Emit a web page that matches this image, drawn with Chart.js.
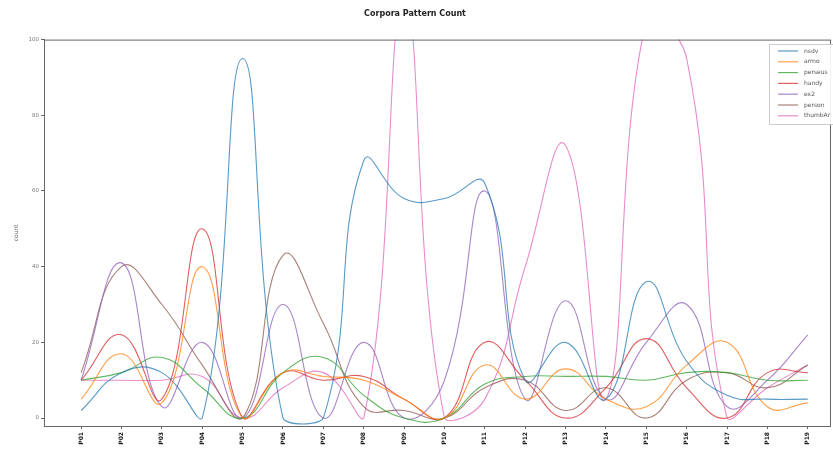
<!DOCTYPE html>
<html>
<head>
<meta charset="utf-8">
<script src="https://cdn.jsdelivr.net/npm/chart.js@4.4.0/dist/chart.umd.min.js"></script>
<style>
  html, body { margin: 0; padding: 0; background: #fff; }
  #wrap { width: 833px; height: 457px; }
</style>
</head>
<body>
<div id="wrap"><canvas id="lineChart" width="833" height="457"></canvas></div>
<script>
let CHART = document.getElementById("lineChart");

// x categories (tick labels) and y ticks
let patterns = ['P01', 'P02', 'P03', 'P04', 'P05', 'P06', 'P07', 'P08', 'P09', 'P10',
                'P11', 'P12', 'P13', 'P14', 'P15', 'P16', 'P17', 'P18', 'P19'];
let yTicks = [0, 20, 40, 60, 80, 100];

// counts per corpus, one value per pattern
let nsdv    = [2, 12, 12, 0, 95, 0, 0, 68, 58, 58, 62, 10, 20, 5, 36, 15, 6, 5, 5];
let armo    = [5, 17, 4, 40, 0, 12, 11, 10, 5, 0, 14, 5, 13, 5, 3, 14, 20, 3, 4];
let perseus = [10, 12, 16, 8, 0, 12, 16, 6, 0, 0, 9, 11, 11, 11, 10, 12, 12, 10, 10];
let handy   = [10, 22, 5, 50, 0, 12, 10, 11, 5, 0, 20, 10, 0, 8, 21, 8, 0, 12, 12];
let ex2     = [10, 41, 3, 20, 0, 30, 0, 20, 0, 10, 60, 5, 31, 5, 20, 30, 3, 10, 22];
let person  = [12, 40, 30, 14, 0, 43, 25, 3, 2, 0, 8, 10, 2, 8, 0, 10, 12, 8, 14];
let thumbAr = [10, 10, 10, 11, 0, 8, 12, 0, 110, 0, 5, 40, 72, 5, 105, 95, 0, 8, 14];

let names  = ['nsdv', 'armo', 'perseus', 'handy', 'ex2', 'person', 'thumbAr'];
let series = [nsdv, armo, perseus, handy, ex2, person, thumbAr];
let colors = ['rgba(31,119,180,0.75)', 'rgba(255,127,14,0.75)', 'rgba(44,160,44,0.75)',
              'rgba(214,39,40,0.75)', 'rgba(148,103,189,0.8)', 'rgba(140,86,75,0.75)',
              'rgba(227,119,194,0.85)'];

let datasets = series.map(function (vals, k) {
    return {
        label: names[k],
        data: vals.map(function (v, i) { return { x: i, y: v }; }),
        borderColor: colors[k],
        backgroundColor: colors[k],
        borderWidth: 1.1,
        pointRadius: 0,
        tension: 0.45,
        fill: false
    };
});

// frame + legend box inside the plot, top right
let boxPlugin = {
    id: 'boxPlugin',
    afterDraw: function (chart) {
        let ctx = chart.ctx;
        let a = chart.chartArea;
        ctx.save();
        ctx.strokeStyle = '#666';
        ctx.lineWidth = 1;
        ctx.strokeRect(a.left + 0.5, a.top + 0.5, a.right - a.left, a.bottom - a.top);

        let bx = 769, by = 44;
        ctx.fillStyle = 'rgba(255,255,255,0.9)';
        ctx.fillRect(bx, by, 70, 80);
        ctx.strokeStyle = '#ccc';
        ctx.strokeRect(bx + 0.5, by + 0.5, 70, 80);
        ctx.font = '6px "DejaVu Sans"';
        ctx.textBaseline = 'middle';
        chart.data.datasets.forEach(function (ds, i) {
            let y = by + 7 + i * 10.8;
            ctx.strokeStyle = ds.borderColor;
            ctx.lineWidth = 1.2;
            ctx.beginPath();
            ctx.moveTo(bx + 9, y);
            ctx.lineTo(bx + 29, y);
            ctx.stroke();
            ctx.fillStyle = '#555';
            ctx.fillText(ds.label, bx + 35, y);
        });
        ctx.restore();
    }
};

let data = {
    type: 'line',
    data: { datasets: datasets },
    options: {
        responsive: false,
        animation: false,
        layout: { padding: { top: 0, right: 3, bottom: 0, left: 0 } },
        plugins: {
            legend: { display: false },
            tooltip: { enabled: false },
            title: {
                display: true,
                text: 'Corpora Pattern Count',
                color: '#222',
                font: { family: 'DejaVu Sans', size: 8, weight: 'bold' },
                padding: { top: 9, bottom: 21 }
            }
        },
        scales: {
            x: {
                type: 'linear',
                min: -0.92,
                max: 18.55,
                afterBuildTicks: function (axis) {
                    axis.ticks = patterns.map(function (p, i) { return { value: i }; });
                },
                afterFit: function (axis) { axis.height = 31; },
                ticks: {
                    autoSkip: false,
                    minRotation: 90,
                    maxRotation: 90,
                    padding: 3,
                    color: '#222',
                    font: { family: 'DejaVu Sans', size: 6, weight: 'bold' },
                    callback: function (v) { return patterns[v]; }
                },
                grid: { drawOnChartArea: false, drawTicks: true, tickLength: 3, color: '#666' },
                border: { display: true, color: '#666' }
            },
            y: {
                min: -2.1,
                max: 100,
                afterBuildTicks: function (axis) {
                    axis.ticks = yTicks.map(function (v) { return { value: v }; });
                },
                afterFit: function (axis) { axis.width = 44; },
                title: {
                    display: true,
                    text: 'count',
                    color: '#666',
                    font: { family: 'DejaVu Sans', size: 6 },
                    padding: { top: 13, bottom: 0 }
                },
                ticks: {
                    padding: 2,
                    color: '#777',
                    font: { family: 'DejaVu Sans', size: 5.5 }
                },
                grid: { drawOnChartArea: false, drawTicks: true, tickLength: 3, color: '#666' },
                border: { display: true, color: '#666' }
            }
        }
    },
    plugins: [boxPlugin]
};

new Chart(CHART, data);
</script>
</body>
</html>
